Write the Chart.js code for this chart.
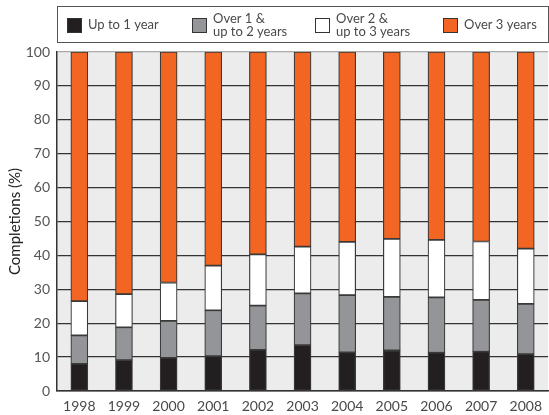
<!DOCTYPE html>
<html>
<head>
<meta charset="utf-8">
<script src="https://cdn.jsdelivr.net/npm/chart.js@4"></script>
<style>
  body { margin: 0; background: #fff; }
</style>
</head>
<body>
<canvas id="myChart" width="549" height="415"></canvas>
<script>
const years = ["1998", "1999", "2000", "2001", "2002", "2003", "2004", "2005", "2006", "2007", "2008"];
const upTo1 = [8.0, 9.1, 9.8, 10.3, 12.1, 13.5, 11.4, 12.0, 11.3, 11.6, 10.9];
const over1To2 = [8.4, 9.7, 10.9, 13.5, 13.1, 15.3, 16.9, 15.8, 16.3, 15.3, 14.8];
const over2To3 = [10.1, 9.8, 11.3, 13.2, 15.1, 13.8, 15.7, 17.1, 17.0, 17.2, 16.3];
const over3 = [73.5, 71.4, 68.0, 63.0, 59.7, 57.4, 56.0, 55.1, 55.4, 55.9, 58.0];
const seriesLabels = ["Up to 1 year", "Over 1 &\nup to 2 years", "Over 2 &\nup to 3 years", "Over 3 years"];
const seriesColors = ["#231f20", "#939598", "#ffffff", "#f26522"];

const FONT = "Lato, 'Open Sans', sans-serif";

// grey plot background
const plotBackground = {
  id: "plotBackground",
  beforeDraw(chart) {
    const { ctx, chartArea } = chart;
    ctx.save();
    ctx.fillStyle = "#ececec";
    ctx.fillRect(chartArea.left, chartArea.top, chartArea.right - chartArea.left, chartArea.bottom - chartArea.top);
    ctx.restore();
  },
};

// boxed legend with two-line labels
const boxLegend = {
  id: "boxLegend",
  afterDraw(chart) {
    const ctx = chart.ctx;
    const swatchX = [67, 192, 315, 443];
    const midY = 25;
    ctx.save();
    ctx.strokeStyle = "#555";
    ctx.lineWidth = 1;
    ctx.strokeRect(57.5, 6.5, 491, 36);
    ctx.font = "13px " + FONT;
    ctx.textBaseline = "middle";
    chart.data.datasets.forEach(function (ds, i) {
      const x = swatchX[i];
      ctx.fillStyle = ds.backgroundColor;
      ctx.fillRect(x, midY - 7, 15, 15);
      ctx.strokeStyle = "#333";
      ctx.strokeRect(x + 0.5, midY - 6.5, 14, 14);
      ctx.fillStyle = "#4a4a4a";
      const lines = seriesLabels[i].split("\n");
      lines.forEach(function (line, j) {
        const y = midY + (j - (lines.length - 1) / 2) * 13;
        ctx.fillText(line, x + 21, y);
      });
    });
    ctx.restore();
  },
};

window.onload = function () {
  const ctx = document.getElementById("myChart").getContext("2d");

  const datasets = [upTo1, over1To2, over2To3, over3].map(function (values, i) {
    return {
      label: seriesLabels[i],
      data: values,
      backgroundColor: seriesColors[i],
      borderColor: "#3a3a3a",
      borderWidth: 1.2,
      borderSkipped: false,
      barThickness: 17,
    };
  });

  const myChart = new Chart(ctx, {
    type: "bar",
    data: {
      labels: years,
      datasets: datasets,
    },
    options: {
      responsive: false,
      animation: false,
      devicePixelRatio: 1,
      layout: {
        padding: { top: 52, left: 0, right: 0, bottom: 0 },
      },
      plugins: {
        legend: { display: false },
        tooltip: { enabled: false },
      },
      scales: {
        x: {
          stacked: true,
          grid: { display: false, drawTicks: false },
          border: { display: true, color: "#333", width: 1.5 },
          ticks: {
            color: "#4a4a4a",
            font: { family: FONT, size: 14 },
            padding: 7,
          },
          afterFit: function (scale) {
            scale.height = 24;
          },
        },
        y: {
          stacked: true,
          min: 0,
          max: 100,
          grid: {
            drawTicks: false,
            lineWidth: 1.3,
            color: function (c) {
              return c.tick && c.tick.value === 100 ? "#aaa" : "#333";
            },
          },
          border: { display: true, color: "#333", width: 1.5 },
          ticks: {
            stepSize: 10,
            color: "#555",
            font: { family: FONT, size: 14 },
            padding: 7,
          },
          title: {
            display: true,
            text: "Completions (%)",
            color: "#222",
            font: { family: FONT, size: 15 },
            padding: { top: 6, bottom: 0 },
          },
          afterFit: function (scale) {
            scale.width = 57;
          },
        },
      },
    },
    plugins: [plotBackground, boxLegend],
  });
};
</script>
</body>
</html>
